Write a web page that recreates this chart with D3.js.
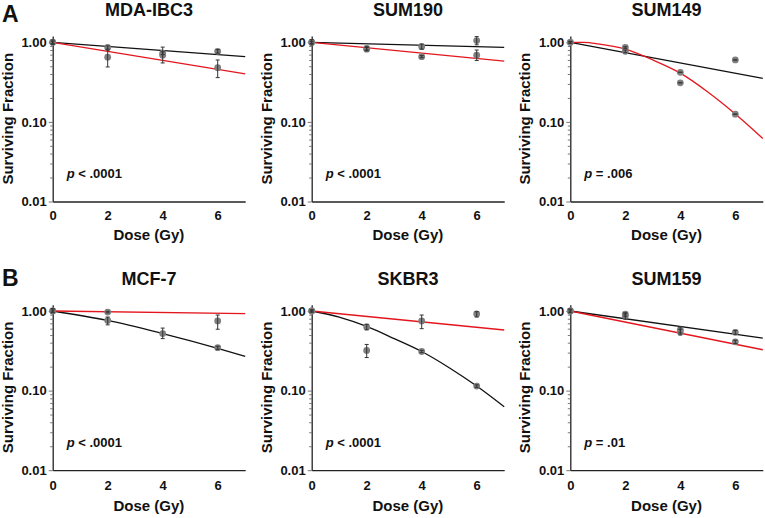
<!DOCTYPE html>
<html><head><meta charset="utf-8">
<script src="https://cdn.jsdelivr.net/npm/d3@7"></script>
<style>
body{margin:0;background:#fff}
text{font-family:"Liberation Sans",Arial,Helvetica,sans-serif;font-weight:bold;fill:#111}
</style>
</head><body><svg id="c" width="765" height="518"></svg>
<script>
// ---- data ----
const cellLines = ["MDA-IBC3", "SUM190", "SUM149", "MCF-7", "SKBR3", "SUM159"];
const pLabels = ["< .0001", "< .0001", "= .006", "< .0001", "< .0001", "= .01"];
const panelLetters = ["A", "B"];
const doses = [0, 2, 4, 6];
const xTicks = [0, 2, 4, 6];
const yMajor = [0.01, 0.1, 1];
const yMajorLabels = ["0.01", "0.10", "1.00"];
const yMinor = [0.02,0.03,0.04,0.05,0.06,0.07,0.08,0.09,0.2,0.3,0.4,0.5,0.6,0.7,0.8,0.9];

// surviving fraction points (gray markers), condition 1 and condition 2
const sf1 = [
  [1.00, 0.86, 0.73, 0.77],
  [1.00, 0.84, 0.88, 1.05],
  [1.00, 0.77, 0.31, 0.60],
  [1.00, 0.76, 0.52, 0.346],
  [1.00, 0.63, 0.31, 0.114],
  [1.00, 0.91, 0.58, 0.54]
];
const sf1Lo = [
  [0.94, 0.82, 0.70, 0.73],
  [0.93, 0.80, 0.82, 0.93],
  [0.97, 0.74, 0.31, 0.60],
  [0.95, 0.67, 0.45, 0.33],
  [0.97, 0.58, 0.30, 0.11],
  [0.95, 0.86, 0.53, 0.51]
];
const sf1Hi = [
  [1.07, 0.90, 0.76, 0.81],
  [1.08, 0.88, 0.95, 1.18],
  [1.03, 0.80, 0.31, 0.60],
  [1.07, 0.84, 0.61, 0.36],
  [1.03, 0.68, 0.32, 0.118],
  [1.06, 0.95, 0.63, 0.57]
];
const sf2 = [
  [1.00, 0.65, 0.69, 0.48],
  [1.00, 0.82, 0.66, 0.69],
  [1.00, 0.86, 0.42, 0.125],
  [1.00, 0.97, null, 0.75],
  [1.00, 0.32, 0.75, 0.92],
  [1.00, 0.865, 0.545, 0.41]
];
const sf2Lo = [
  [0.97, 0.49, 0.55, 0.36],
  [0.97, 0.78, 0.64, 0.59],
  [0.98, 0.84, 0.42, 0.125],
  [0.97, 0.95, null, 0.59],
  [0.97, 0.26, 0.60, 0.84],
  [0.97, 0.79, 0.50, 0.39]
];
const sf2Hi = [
  [1.03, 0.80, 0.87, 0.60],
  [1.03, 0.86, 0.68, 0.80],
  [1.02, 0.88, 0.42, 0.125],
  [1.03, 0.99, null, 0.89],
  [1.03, 0.38, 0.89, 0.98],
  [1.03, 0.92, 0.59, 0.43]
];

// fitted curves: [dose, surviving fraction]
const blackFit = [
  [[0, 1], [7, 0.66]],
  [[0, 1], [7, 0.865]],
  [[0, 1], [7, 0.353]],
  [[0, 1], [2, 0.76], [4, 0.52], [6, 0.34], [7, 0.27]],
  [[0, 1], [1, 0.84], [2, 0.64], [3, 0.45], [4, 0.31], [5, 0.194], [6, 0.114], [7, 0.0625]],
  [[0, 1], [7, 0.457]]
];
const redFit = [
  [[0, 1], [7, 0.40]],
  [[0, 1], [7, 0.58]],
  [[0, 1], [0.5, 0.995], [1, 0.955], [2, 0.82], [3, 0.60], [4, 0.41], [5, 0.238], [6, 0.126], [7, 0.062]],
  [[0, 1], [7, 0.925]],
  [[0, 1], [7, 0.577]],
  [[0, 1], [7, 0.326]]
];

// ---- layout ----
const colX = [52.7, 311.7, 570.3];
const rowY1 = [42.3, 311.0];
const W = 192.5, DEC = 79.6;
const tickPad = [9, 11];
const xLabelOff = [38, 41];

const svg = d3.select("#c");
const BLACK = "#111", RED = "#e3161d", GRAY = "#7f7f7f", ERR = "#333";

cellLines.forEach((name, i) => {
  const col = i % 3, row = Math.floor(i / 3);
  const x0 = colX[col], y1 = rowY1[row];
  const bottom = y1 + 2 * DEC;
  const x = d3.scaleLinear().domain([0, 7]).range([x0, x0 + W]);
  const y = d3.scaleLog().domain([0.01, 1.2]).range([bottom, bottom - DEC * Math.log10(120)]);
  const g = svg.append("g");

  // axes
  const ya = g.append("g").attr("transform", `translate(${x0},0)`)
    .call(d3.axisLeft(y).tickValues(yMajor).tickFormat((d, k) => yMajorLabels[k]).tickSize(4).tickSizeOuter(0).tickPadding(2));
  g.append("g").attr("transform", `translate(${x0},0)`)
    .call(d3.axisLeft(y).tickValues(yMinor).tickFormat("").tickSize(2.5).tickSizeOuter(0))
    .select(".domain").remove();
  const xa = g.append("g").attr("transform", `translate(0,${bottom})`)
    .call(d3.axisBottom(x).tickValues(xTicks).tickFormat(d3.format("d")).tickSize(0).tickSizeOuter(0).tickPadding(tickPad[row]));
  g.selectAll(".domain").attr("stroke", "#222").attr("stroke-width", 1.3);
  g.selectAll(".tick line").attr("stroke", "#555").attr("stroke-width", 0.8);
  g.selectAll(".tick text").style("font-size", "13px").style("font-weight", "bold")
    .style("font-family", '"Liberation Sans",Arial,sans-serif').attr("fill", "#111");

  // fit lines
  const line = d3.line().x(d => x(d[0])).y(d => y(d[1])).curve(d3.curveMonotoneX);
  g.append("path").datum(blackFit[i]).attr("d", line).attr("fill", "none").attr("stroke", BLACK).attr("stroke-width", 1.3);
  g.append("path").datum(redFit[i]).attr("d", line).attr("fill", "none").attr("stroke", RED).attr("stroke-width", 1.3);

  // points
  const pts = [];
  doses.forEach((d, k) => {
    if (sf1[i][k] != null) pts.push({d, v: sf1[i][k], lo: sf1Lo[i][k], hi: sf1Hi[i][k]});
    if (sf2[i][k] != null) pts.push({d, v: sf2[i][k], lo: sf2Lo[i][k], hi: sf2Hi[i][k]});
  });
  g.selectAll("circle.pt").data(pts).join("circle")
    .attr("cx", p => x(p.d)).attr("cy", p => y(p.v)).attr("r", 3.4).attr("fill", GRAY);
  const eb = g.selectAll("g.eb").data(pts).join("g").attr("stroke", ERR).attr("stroke-width", 1);
  eb.append("line").attr("x1", p => x(p.d)).attr("x2", p => x(p.d)).attr("y1", p => y(p.lo)).attr("y2", p => y(p.hi));
  eb.append("line").attr("x1", p => x(p.d) - 2).attr("x2", p => x(p.d) + 2).attr("y1", p => y(p.lo)).attr("y2", p => y(p.lo));
  eb.append("line").attr("x1", p => x(p.d) - 2).attr("x2", p => x(p.d) + 2).attr("y1", p => y(p.hi)).attr("y2", p => y(p.hi));

  // title
  g.append("text").attr("x", x0 + W / 2).attr("y", y1 - 26).attr("text-anchor", "middle")
    .style("font-size", "18px").text(name);
  // x label
  g.append("text").attr("x", x0 + W / 2).attr("y", bottom + xLabelOff[row]).attr("text-anchor", "middle")
    .style("font-size", "15px").text("Dose (Gy)");
  // y label
  const yc = (bottom + y(1.2)) / 2;
  g.append("text").attr("transform", `translate(${x0 - 40},${yc}) rotate(-90)`).attr("text-anchor", "middle")
    .style("font-size", "15px").text("Surviving Fraction");
  // p value
  const pt = g.append("text").attr("x", x0 + 14).attr("y", y1 + 136).style("font-size", "13px");
  pt.append("tspan").style("font-style", "italic").text("p");
  pt.append("tspan").text(" " + pLabels[i]);
});

// panel letters
svg.append("text").attr("x", 2).attr("y", 22).style("font-size", "23px").text(panelLetters[0]);
svg.append("text").attr("x", 2).attr("y", 286).style("font-size", "23px").text(panelLetters[1]);
</script>
</body></html>
